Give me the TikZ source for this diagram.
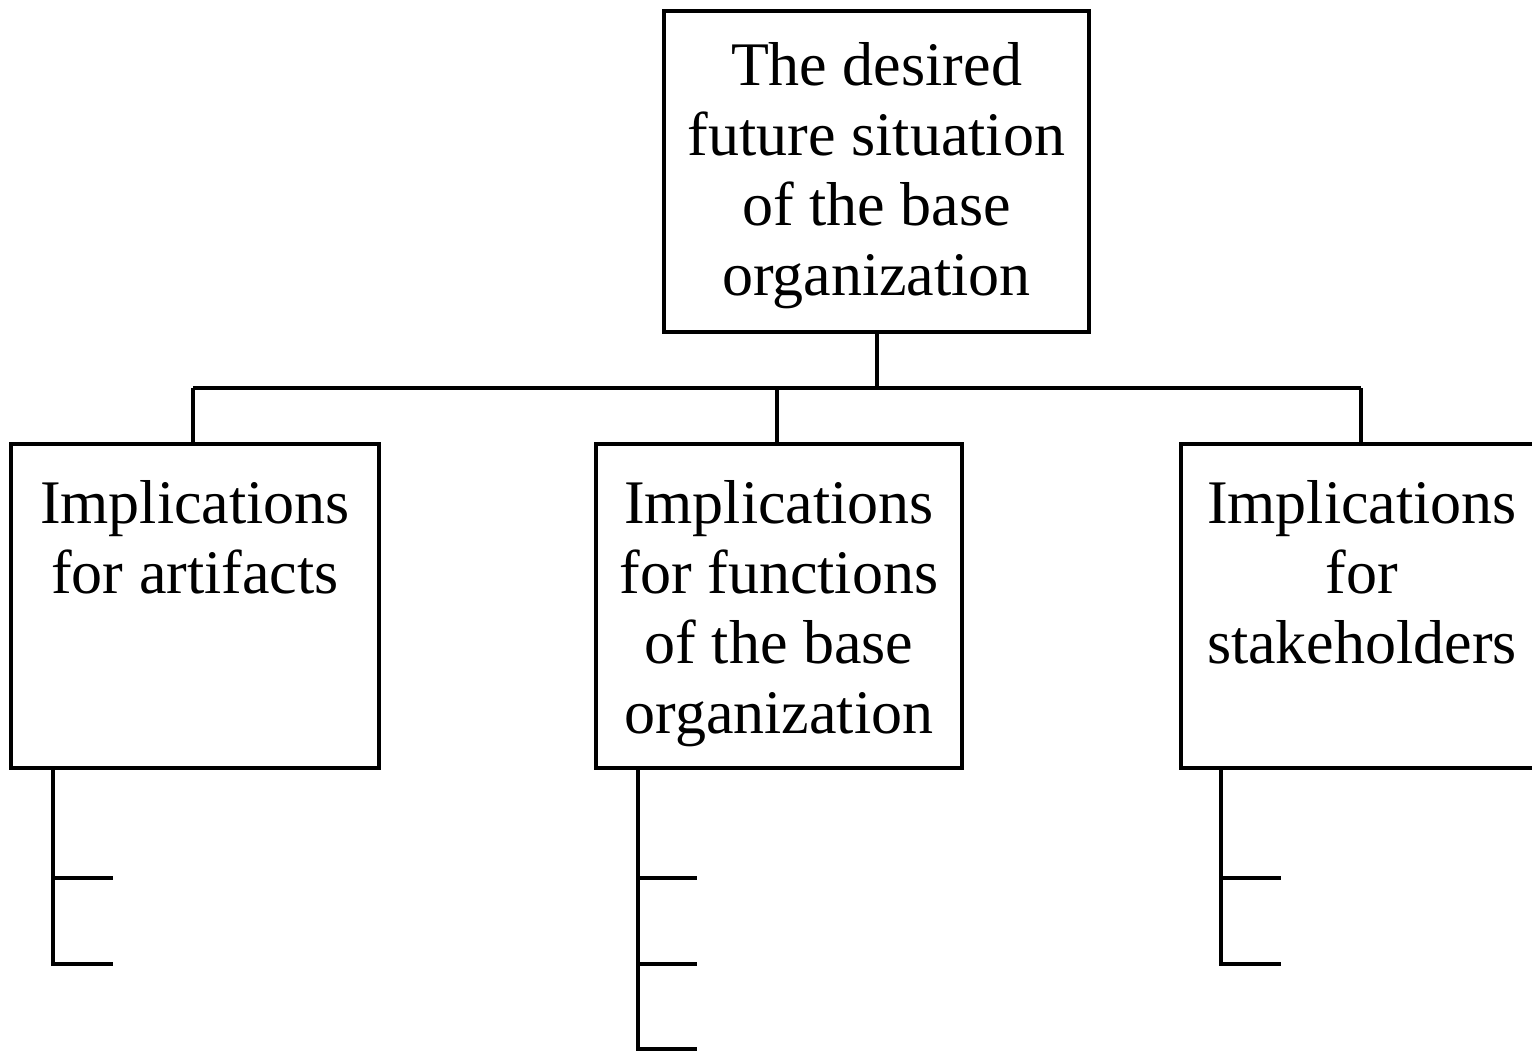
\documentclass[tikz,border=0pt]{standalone}
\usepackage{fontspec}
\setmainfont{Liberation Serif}
\begin{document}
\begin{tikzpicture}[x=1pt,y=-1pt,
  box/.style={draw, line width=4pt, rectangle, inner sep=0pt},
  lbl/.style={anchor=north, inner sep=0pt, align=center, font=\fontsize{62}{70}\selectfont},
  conn/.style={line width=4pt}]
\useasboundingbox (0,0) rectangle (1532,1051);
\clip (0,0) rectangle (1532,1051);
% boxes
\node[box, minimum width=425pt, minimum height=321pt] (top) at (876.5,171.5) {};
\node[box, minimum width=368pt, minimum height=324pt] (A) at (195,606) {};
\node[box, minimum width=366pt, minimum height=324pt] (B) at (779,606) {};
\node[box, minimum width=362pt, minimum height=324pt] (C) at (1362,606) {};
% labels
\node[lbl] (ttop) at (876.5,42) {The desired\\future situation\\of the base\\organization};
\node[lbl] (tA) at (195,480) {Implications\\for artifacts};
\node[lbl] (tB) at (779,480) {Implications\\for functions\\of the base\\organization};
\node[lbl] (tC) at (1362,480) {Implications\\for\\stakeholders};
% tree connectors
\coordinate (bar) at (876.5,388);
\coordinate (barA) at (193,388);
\coordinate (barB) at (777,388);
\coordinate (barC) at (1361,388);
\draw[conn] (top.south) -- (bar);
\draw[conn] (barA) -- (barC);
\draw[conn] (barA) -- (barA |- A.north);
\draw[conn] (barB) -- (barB |- B.north);
\draw[conn] (barC) -- (barC |- C.north);
% sub-item ticks
\coordinate (ra) at (53,768);
\coordinate (ra1) at (53,878);
\coordinate (ra2) at (53,964);
\draw[conn] (ra) -- (ra2) -- (113,964);
\draw[conn] (ra1) -- (113,878);
\coordinate (rb) at (637.5,768);
\coordinate (rb1) at (637.5,878);
\coordinate (rb2) at (637.5,964);
\coordinate (rb3) at (637.5,1049);
\draw[conn] (rb) -- (637.5,1053);
\draw[conn] (rb1) -- (697,878);
\draw[conn] (rb2) -- (697,964);
\draw[conn] (rb3) -- (697,1049);
\coordinate (rc) at (1221,768);
\coordinate (rc1) at (1221,878);
\coordinate (rc2) at (1221,964);
\draw[conn] (rc) -- (rc2) -- (1281,964);
\draw[conn] (rc1) -- (1281,878);
\end{tikzpicture}
\end{document}
